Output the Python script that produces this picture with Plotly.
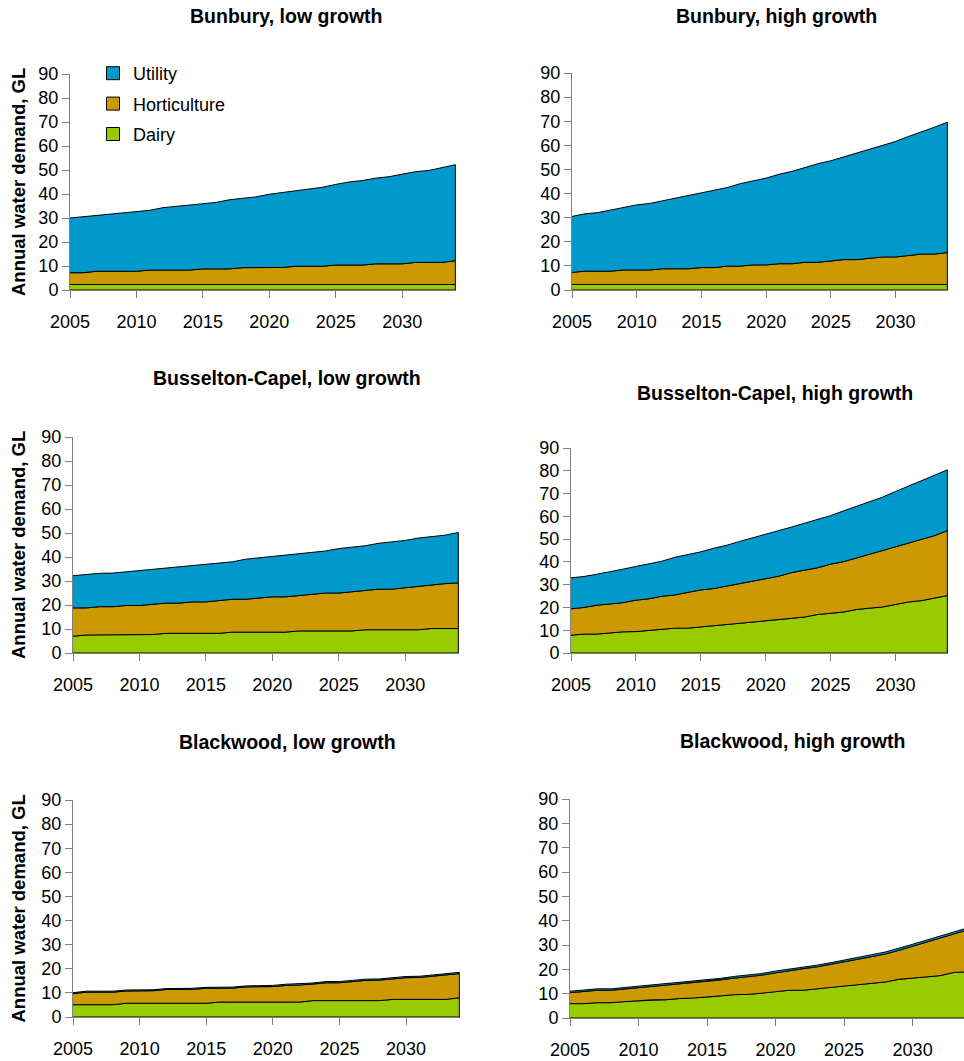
import numpy as np
import plotly.graph_objects as go

W, H = 964, 1061
years = list(range(2005, 2035))
tick_years = [2005, 2010, 2015, 2020, 2025, 2030]
y_ticks = [0, 10, 20, 30, 40, 50, 60, 70, 80, 90]
series_names = ["Dairy", "Horticulture", "Utility"]
colors = {"Dairy": "#99CC00", "Horticulture": "#CC9900", "Utility": "#0099CC"}

titles = ["Bunbury, low growth", "Bunbury, high growth",
          "Busselton-Capel, low growth", "Busselton-Capel, high growth",
          "Blackwood, low growth", "Blackwood, high growth"]

# --- component values (GL), 2005..2034 ---
bunbury_low_dairy = [2.3] * 30
bunbury_low_hort = [4.9, 4.9, 5.5, 5.5, 5.5, 5.5, 6.0, 6.0, 6.0, 6.0, 6.5, 6.5, 6.5, 7.0, 7.1,
                    7.1, 7.1, 7.6, 7.6, 7.6, 8.1, 8.1, 8.1, 8.6, 8.6, 8.6, 9.2, 9.2, 9.2, 9.9]
bunbury_low_util = [22.8, 23.3, 23.2, 23.8, 24.3, 24.9, 24.9, 26.0, 26.6, 27.1, 27.1, 27.7, 28.8, 28.9, 29.4,
                    30.5, 31.2, 31.7, 32.3, 32.9, 33.6, 34.6, 35.2, 35.7, 36.3, 37.4, 37.8, 38.3, 39.4, 40.0]

bunbury_high_dairy = [2.3] * 30
bunbury_high_hort = [5.0, 5.5, 5.5, 5.5, 6.0, 6.0, 6.0, 6.5, 6.5, 6.5, 7.0, 7.0, 7.6, 7.6, 8.1,
                     8.1, 8.6, 8.6, 9.2, 9.2, 9.7, 10.3, 10.3, 10.8, 11.4, 11.4, 12.0, 12.6, 12.6, 13.2]
bunbury_high_util = [23.2, 23.8, 24.3, 25.4, 26.0, 27.0, 27.6, 28.2, 29.3, 30.3, 31.0, 32.1, 32.6, 34.2, 34.9,
                     36.0, 37.1, 38.3, 39.3, 40.9, 41.6, 42.6, 44.2, 45.3, 46.3, 47.9, 49.4, 50.6, 52.6, 54.1]

busselton_low_dairy = [7.0, 7.5, 7.6, 7.6, 7.6, 7.6, 7.7, 8.2, 8.2, 8.2, 8.2, 8.2, 8.7, 8.7, 8.7,
                       8.7, 8.7, 9.2, 9.2, 9.2, 9.2, 9.2, 9.7, 9.7, 9.7, 9.7, 9.7, 10.2, 10.2, 10.2]
busselton_low_hort = [11.8, 11.3, 11.7, 11.7, 12.2, 12.2, 12.6, 12.6, 12.6, 13.1, 13.1, 13.6, 13.7, 13.7, 14.2,
                      14.7, 14.7, 14.8, 15.3, 15.8, 15.8, 16.4, 16.4, 16.9, 16.9, 17.5, 18.1, 18.1, 18.7, 19.0]
busselton_low_util = [13.4, 13.9, 13.9, 14.0, 14.0, 14.5, 14.5, 14.6, 15.1, 15.1, 15.6, 15.7, 15.6, 16.7, 16.8,
                      16.8, 17.4, 17.3, 17.4, 17.5, 18.5, 18.5, 18.6, 19.1, 19.7, 19.7, 20.1, 20.2, 20.2, 21.0]

busselton_high_dairy = [7.8, 8.3, 8.3, 8.8, 9.3, 9.4, 9.9, 10.4, 10.9, 10.9, 11.4, 12.0, 12.5, 13.0, 13.6,
                        14.1, 14.6, 15.2, 15.8, 16.9, 17.4, 18.0, 19.1, 19.7, 20.2, 21.3, 22.4, 23.0, 24.1, 25.2]
busselton_high_hort = [11.6, 11.7, 12.7, 12.7, 12.8, 13.8, 13.9, 14.5, 14.6, 15.7, 16.3, 16.3, 16.9, 17.5, 17.9,
                       18.5, 19.1, 20.1, 20.6, 20.5, 21.6, 22.1, 22.6, 23.7, 24.8, 25.3, 25.8, 26.9, 27.4, 28.5]
busselton_high_util = [13.6, 13.6, 13.6, 14.1, 14.7, 14.8, 15.4, 15.4, 16.5, 16.6, 16.7, 17.7, 17.9, 18.5, 19.0,
                       19.4, 19.9, 20.0, 20.6, 21.2, 21.3, 22.3, 22.7, 22.9, 23.4, 24.3, 25.0, 25.5, 26.5, 26.7]

blackwood_low_dairy = [5.1, 5.1, 5.1, 5.1, 5.7, 5.7, 5.7, 5.7, 5.7, 5.7, 5.7, 6.2, 6.2, 6.2, 6.2,
                       6.2, 6.2, 6.2, 6.8, 6.8, 6.8, 6.8, 6.8, 6.8, 7.3, 7.3, 7.3, 7.3, 7.3, 8.0]
blackwood_low_hort = [4.6, 5.2, 5.2, 5.2, 5.1, 5.1, 5.2, 5.7, 5.7, 5.8, 6.2, 5.8, 5.8, 6.3, 6.4,
                      6.4, 6.9, 7.0, 6.8, 7.4, 7.4, 7.9, 8.4, 8.5, 8.5, 9.0, 9.1, 9.6, 10.1, 10.0]
blackwood_low_util = [0.4] * 15 + [0.5] * 15

blackwood_high_dairy = [5.9, 5.9, 6.3, 6.3, 6.8, 7.0, 7.5, 7.5, 8.0, 8.2, 8.6, 9.1, 9.6, 9.7, 10.2,
                        10.7, 11.4, 11.4, 12.1, 12.6, 13.2, 13.7, 14.2, 14.8, 15.9, 16.5, 16.9, 17.4, 18.7, 19.0]
blackwood_high_hort = [4.5, 5.0, 5.1, 5.1, 5.1, 5.5, 5.5, 6.0, 5.9, 6.3, 6.5, 6.5, 6.8, 7.3, 7.4,
                       7.9, 7.9, 8.9, 8.9, 9.4, 9.9, 10.4, 11.0, 11.5, 11.9, 13.0, 14.3, 15.4, 15.9, 17.2]
blackwood_high_util = [0.6] * 10 + [0.7] * 10 + [0.8] * 10

panels_data = [
    (bunbury_low_dairy, bunbury_low_hort, bunbury_low_util),
    (bunbury_high_dairy, bunbury_high_hort, bunbury_high_util),
    (busselton_low_dairy, busselton_low_hort, busselton_low_util),
    (busselton_high_dairy, busselton_high_hort, busselton_high_util),
    (blackwood_low_dairy, blackwood_low_hort, blackwood_low_util),
    (blackwood_high_dairy, blackwood_high_hort, blackwood_high_util),
]

# --- layout geometry (pixels) ---
# (left, right, top, bottom, x range max)
boxes = [
    (70, 456, 74, 290, 2034.05),
    (572, 948, 73, 290, 2034.05),
    (73, 459, 437, 653, 2034.05),
    (571, 948, 448, 653, 2034.05),
    (73, 460, 800, 1017, 2034.05),
    (570, 964, 799, 1018, 2033.75),
]
title_pos = [(286, 16), (776, 16), (287, 378), (775, 393), (287, 742), (792, 741)]

FONT = "Arial, 'Liberation Sans', sans-serif"
AXC = "#808080"

fig = go.Figure()
layout = {}
annotations = []

for i, (data, box) in enumerate(zip(panels_data, boxes)):
    n = i + 1
    xa = "x" if n == 1 else f"x{n}"
    ya = "y" if n == 1 else f"y{n}"
    base = np.zeros(len(years))
    for name, vals in zip(series_names, data):
        top = base + np.array(vals)
        xs = years + years[::-1]
        ys = list(top) + list(base[::-1])
        fig.add_trace(go.Scatter(
            x=xs, y=ys, mode="lines", fill="toself",
            fillcolor=colors[name], line=dict(color="black", width=1),
            xaxis=xa, yaxis=ya, showlegend=False, hoverinfo="skip"))
        base = top

    l, r, t, b, xmax = box
    layout[f"xaxis{'' if n == 1 else n}"] = dict(
        domain=[l / W, r / W], anchor=ya, range=[2005, xmax],
        tickvals=tick_years, ticktext=[str(v) for v in tick_years],
        ticks="outside", ticklen=7, tickcolor=AXC, showline=True, linecolor=AXC,
        linewidth=1, showgrid=False, zeroline=False, ticklabelstandoff=8,
        layer="below traces",
        tickfont=dict(family=FONT, size=18, color="black"))
    layout[f"yaxis{'' if n == 1 else n}"] = dict(
        domain=[1 - b / H, 1 - t / H], anchor=xa, range=[0, 90],
        tickvals=y_ticks, ticks="outside", ticklen=7, tickcolor=AXC,
        showline=True, linecolor=AXC, linewidth=1, showgrid=False, zeroline=False,
        ticklabelstandoff=0, layer="below traces",
        tickfont=dict(family=FONT, size=18, color="black"))

    tx, ty = title_pos[i]
    annotations.append(dict(
        text=f"<b>{titles[i]}</b>", x=tx / W, y=1 - ty / H, xref="paper", yref="paper",
        showarrow=False, xanchor="center", yanchor="middle",
        font=dict(family=FONT, size=19.5, color="black")))
    if n % 2 == 1:
        annotations.append(dict(
            text="<b>Annual water demand, GL</b>", x=18 / W, y=1 - ((t + b) / 2) / H,
            xref="paper", yref="paper", showarrow=False, textangle=-90,
            xanchor="center", yanchor="middle",
            font=dict(family=FONT, size=18.5, color="black")))

# legend entries (shown once, over the first panel)
for k, name in enumerate(["Utility", "Horticulture", "Dairy"]):
    fig.add_trace(go.Scatter(
        x=[None], y=[None], mode="markers", name=name, legendgroup=f"g{k}",
        marker=dict(symbol="square", size=13, color=colors[name],
                    line=dict(color="black", width=1)),
        xaxis="x", yaxis="y", showlegend=True))

fig.update_layout(
    width=W, height=H, margin=dict(l=0, r=0, t=0, b=0, autoexpand=False),
    paper_bgcolor="white", plot_bgcolor="white",
    annotations=annotations,
    legend=dict(x=93 / W, y=1 - 55 / H, xanchor="left", yanchor="top",
                bgcolor="rgba(0,0,0,0)", itemwidth=30, tracegroupgap=4,
                traceorder="grouped",
                font=dict(family=FONT, size=18, color="black")),
    showlegend=True,
    **layout)

fig.write_html("out.html")
